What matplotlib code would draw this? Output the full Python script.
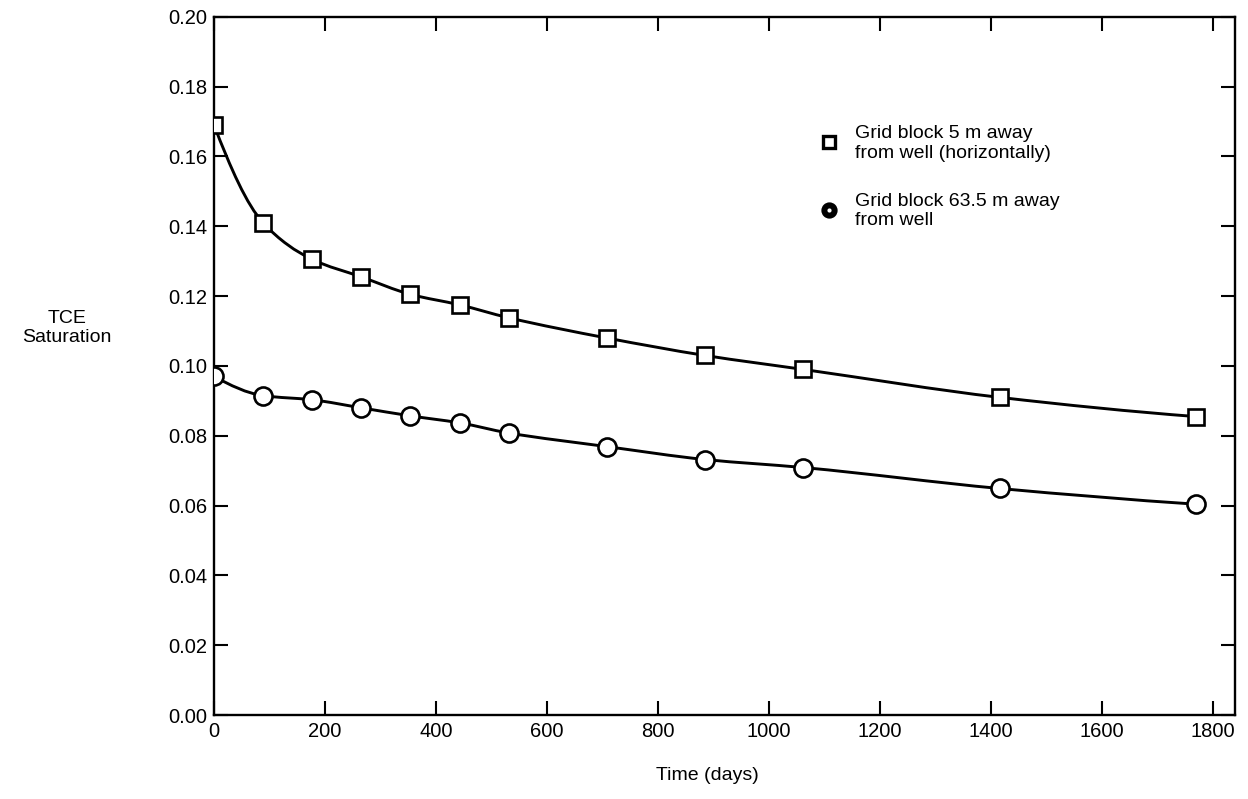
import numpy as np
import matplotlib.pyplot as plt
from matplotlib.path import Path
from matplotlib.patches import PathPatch

plt.rcParams['font.family'] = ['Liberation Sans', 'DejaVu Sans']

# time (days) of the simulation outputs
days = [0, 88.5, 177, 265.5, 354, 442.5, 531, 708, 885, 1062, 1416, 1770]
# TCE saturation, grid block 5 m from well
sat_5m = [0.169, 0.141, 0.1305, 0.1255, 0.1205, 0.1175, 0.1138, 0.108, 0.103, 0.099, 0.091, 0.0855]
# TCE saturation, grid block 63.5 m from well
sat_63m = [0.097, 0.0915, 0.0903, 0.088, 0.0857, 0.0837, 0.0808, 0.0769, 0.0732, 0.0709, 0.0649, 0.0604]

xticks = [0, 200, 400, 600, 800, 1000, 1200, 1400, 1600, 1800]
yticks = [0.00, 0.02, 0.04, 0.06, 0.08, 0.10, 0.12, 0.14, 0.16, 0.18, 0.20]

label_5m = 'Grid block 5 m away\nfrom well (horizontally)'
label_63m = 'Grid block 63.5 m away\nfrom well'


def smooth_path(x, y):
    # monotone cubic (hermite) through the points, drawn as bezier segments
    x = np.asarray(x, float)
    y = np.asarray(y, float)
    h = np.diff(x)
    d = np.diff(y) / h
    n = len(x)
    m = np.zeros(n)
    for i in range(1, n - 1):
        if d[i - 1] * d[i] > 0:
            w1 = 2 * h[i] + h[i - 1]
            w2 = h[i] + 2 * h[i - 1]
            m[i] = (w1 + w2) / (w1 / d[i - 1] + w2 / d[i])
    m[0] = ((2 * h[0] + h[1]) * d[0] - h[0] * d[1]) / (h[0] + h[1])
    m[-1] = ((2 * h[-1] + h[-2]) * d[-1] - h[-1] * d[-2]) / (h[-1] + h[-2])
    verts = [(x[0], y[0])]
    codes = [Path.MOVETO]
    for i in range(n - 1):
        c1 = (x[i] + h[i] / 3, y[i] + m[i] * h[i] / 3)
        c2 = (x[i + 1] - h[i] / 3, y[i + 1] - m[i + 1] * h[i] / 3)
        verts += [c1, c2, (x[i + 1], y[i + 1])]
        codes += [Path.CURVE4] * 3
    return Path(verts, codes)


fig = plt.figure(figsize=(12.48, 7.99), dpi=100)
ax = fig.add_axes([0.1715, 0.105, 0.8181, 0.874])

for s in [sat_5m, sat_63m]:
    ax.add_patch(PathPatch(smooth_path(days, s), facecolor='none', edgecolor='black', lw=2.1, zorder=2))

ax.plot(days, sat_5m, ls='none', marker='s', ms=11, mfc='white', mec='black', mew=1.9, zorder=3)
ax.plot(days, sat_63m, ls='none', marker='o', ms=13, mfc='white', mec='black', mew=1.9, zorder=3)

ax.set_xlim(0, 1840)
ax.set_ylim(0, 0.2)
ax.set_xticks(xticks)
ax.set_yticks(yticks)
ax.set_yticklabels(['%.2f' % v for v in yticks])
ax.tick_params(direction='in', length=10, width=1.5, labelsize=14.5, top=True, right=True, pad=5)
for sp in ax.spines.values():
    sp.set_linewidth(1.7)

ax.set_xlabel('Time (days)', fontsize=14)
ax.xaxis.set_label_coords(0.483, -0.075)
fig.text(0.0537, 0.5895, 'TCE\nSaturation', ha='center', va='center', fontsize=14, multialignment='center')

# legend drawn by hand so the marker sits on the first text line
ax.plot([0.602], [0.821], transform=ax.transAxes, marker='s', ms=8, mfc='white', mec='black', mew=2.4, clip_on=False)
ax.text(0.628, 0.845, label_5m, transform=ax.transAxes, fontsize=14, va='top', ha='left', linespacing=1.2)
ax.plot([0.602], [0.7235], transform=ax.transAxes, marker='o', ms=9.5, mfc='black', mec='black', mew=2.2, clip_on=False)
ax.plot([0.602], [0.7235], transform=ax.transAxes, marker='o', ms=3, mfc='white', mec='white', mew=0, clip_on=False)
ax.text(0.628, 0.748, label_63m, transform=ax.transAxes, fontsize=14, va='top', ha='left', linespacing=1.2)

fig.savefig('out.png', dpi=100)
